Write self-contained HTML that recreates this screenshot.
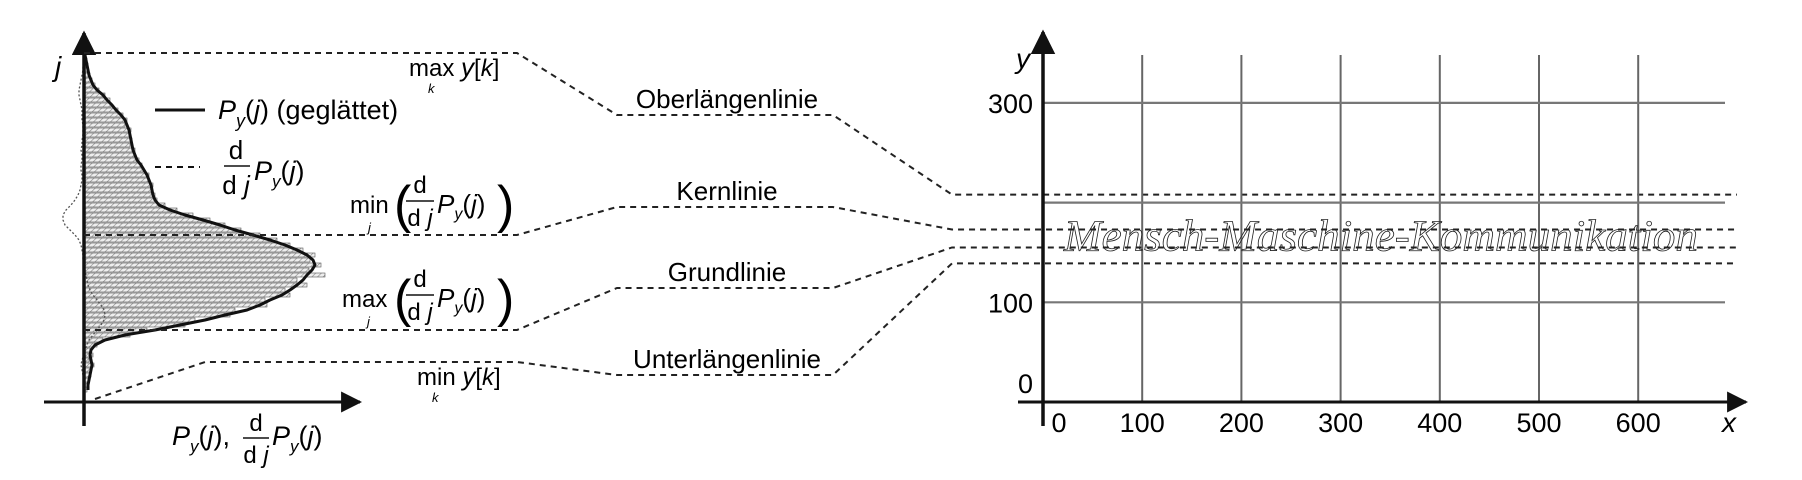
<!DOCTYPE html>
<html><head><meta charset="utf-8"><style>
html,body{margin:0;padding:0;background:#fff;}
svg{display:block;font-family:"Liberation Sans",sans-serif;}
</style></head><body>
<svg id="fig" width="1802" height="480" viewBox="0 0 1802 480" xmlns="http://www.w3.org/2000/svg">
<defs>
<marker id="arr" viewBox="0 0 10 10" refX="9" refY="5" markerWidth="7" markerHeight="7" orient="auto"><path d="M0,0 L10,5 L0,10 z" fill="#111"/></marker>
<pattern id="hatch" width="4" height="4" patternUnits="userSpaceOnUse" patternTransform="rotate(45)"><rect width="4" height="4" fill="#eee"/><line x1="0" y1="0" x2="0" y2="4" stroke="#888" stroke-width="1.3"/></pattern>
</defs>
<g id="left"></g>
<g id="mid"></g>
<g id="right"></g>

<text x="55" y="76" font-size="28" font-style="italic">j</text>
<g>
<line x1="155" y1="110" x2="205" y2="110" stroke="#111" stroke-width="3"/>
<text x="218" y="119" font-size="27"><tspan font-style="italic">P</tspan><tspan font-size="18" font-style="italic" dy="8">y</tspan><tspan dy="-8">(</tspan><tspan font-style="italic">j</tspan>) (geglättet)</text>
<line x1="155" y1="167" x2="200" y2="167" stroke="#111" stroke-width="2" stroke-dasharray="6,5"/>
<g>
<text x="236" y="159" font-size="26" text-anchor="middle">d</text>
<line x1="224" y1="166" x2="250" y2="166" stroke="#111" stroke-width="1.5"/>
<text x="236" y="194" font-size="26" text-anchor="middle">d <tspan font-style="italic">j</tspan></text>
<text x="254" y="180" font-size="27"><tspan font-style="italic">P</tspan><tspan font-size="17" font-style="italic" dy="7">y</tspan><tspan dy="-7">(</tspan><tspan font-style="italic">j</tspan>)</text>
</g>
</g>
<g>
<text x="409" y="76" font-size="24">max <tspan font-style="italic" font-size="26">y</tspan>[<tspan font-style="italic">k</tspan>]</text>
<text x="428" y="93" font-size="13" font-style="italic">k</text>
</g>
<g>
<text x="350" y="213" font-size="24">min</text>
<text x="368" y="232" font-size="13" font-style="italic">j</text>
<text x="394" y="222" font-size="52" font-weight="100">(</text>
<text x="420" y="193" font-size="24" text-anchor="middle">d</text>
<line x1="406" y1="201" x2="434" y2="201" stroke="#111" stroke-width="1.5"/>
<text x="420" y="226" font-size="24" text-anchor="middle">d <tspan font-style="italic">j</tspan></text>
<text x="437" y="213" font-size="26"><tspan font-style="italic">P</tspan><tspan font-size="16" font-style="italic" dy="6">y</tspan><tspan dy="-6">(</tspan><tspan font-style="italic">j</tspan>)</text>
<text x="497" y="222" font-size="52">)</text>
</g>
<g>
<text x="342" y="307" font-size="24">max</text>
<text x="367" y="326" font-size="13" font-style="italic">j</text>
<text x="394" y="316" font-size="52">(</text>
<text x="420" y="287" font-size="24" text-anchor="middle">d</text>
<line x1="406" y1="295" x2="434" y2="295" stroke="#111" stroke-width="1.5"/>
<text x="420" y="320" font-size="24" text-anchor="middle">d <tspan font-style="italic">j</tspan></text>
<text x="437" y="307" font-size="26"><tspan font-style="italic">P</tspan><tspan font-size="16" font-style="italic" dy="6">y</tspan><tspan dy="-6">(</tspan><tspan font-style="italic">j</tspan>)</text>
<text x="497" y="316" font-size="52">)</text>
</g>
<g>
<text x="417" y="385" font-size="24">min <tspan font-style="italic" font-size="26">y</tspan>[<tspan font-style="italic">k</tspan>]</text>
<text x="432" y="402" font-size="13" font-style="italic">k</text>
</g>
<g>
<text x="172" y="445" font-size="27"><tspan font-style="italic">P</tspan><tspan font-size="17" font-style="italic" dy="7">y</tspan><tspan dy="-7">(</tspan><tspan font-style="italic">j</tspan>),</text>
<text x="256" y="431" font-size="24" text-anchor="middle">d</text>
<line x1="243" y1="438" x2="269" y2="438" stroke="#111" stroke-width="1.5"/>
<text x="256" y="463" font-size="24" text-anchor="middle">d <tspan font-style="italic">j</tspan></text>
<text x="272" y="445" font-size="27"><tspan font-style="italic">P</tspan><tspan font-size="17" font-style="italic" dy="7">y</tspan><tspan dy="-7">(</tspan><tspan font-style="italic">j</tspan>)</text>
</g>

<text x="727" y="108" font-size="26" text-anchor="middle">Oberlängenlinie</text>
<text x="727" y="200" font-size="26" text-anchor="middle">Kernlinie</text>
<text x="727" y="281" font-size="26" text-anchor="middle">Grundlinie</text>
<text x="727" y="368" font-size="26" text-anchor="middle">Unterlängenlinie</text>
</svg>
<script>
// ---- Left plot data ----
const binJ = [340,335,330,325,320,315,310,305,300,295,290,285,280,275,270,265,260,255,250,245,240,235,230,225,220,215,210,205,200,195,190,185,180,175,170,165,160,155,150,145,140,135,130,125,120,115,110,105,100,95,90,85,80,75,70,65,60,55,50,45,40,35,30,25,20,15,10,5];
const smoothP = [0,1,2,3,4,6,8,12,18,22,27,31,36,40,42,44,45,46,47,48,50,52,56,59,62,64,66,67,68,70,74,85,100,118,135,150,168,185,200,212,222,228,230,227,222,218,212,205,197,185,175,162,140,120,95,70,40,20,10,6,5,6,7,6,5,4,3,3];
const histP = [0,2,3,2,5,7,10,14,20,25,26,33,38,42,40,46,44,47,45,50,49,54,57,58,64,63,68,66,70,72,80,92,108,125,140,156,175,192,205,218,230,225,236,224,240,212,222,200,205,180,182,150,145,110,100,62,45,18,12,5,8,4,9,5,6,3,4,2];
const derivP = [0,-1,-2,-2,-3,-4,-5,-6,-6,-5,-4,-3,-3,-3,-2,-2,-2,-3,-3,-4,-3,-3,-4,-4,-3,-3,-4,-5,-7,-10,-14,-19,-22,-22,-20,-15,-10,-6,-4,-3,-2,-2,-1,0,1,2,3,5,8,12,16,19,20,19,16,12,8,4,2,0,-1,-3,-4,-3,-2,-1,0,0];
// ---- Right plot data ----
const xTicks = [0,100,200,300,400,500,600];
const yTicks = [0,100,200,300];
const yTickLabels = ['0','100','','300'];
const guideValues = [208,173,155,139];
const guideNames = ['oberlaengen','kern','grund','unterlaengen'];

const NS='http://www.w3.org/2000/svg';
function mk(parent,tag,attrs){const e=document.createElementNS(NS,tag);for(const k in attrs)e.setAttribute(k,attrs[k]);parent.appendChild(e);return e;}

const L0 = 85, Lbase = 395;
const jy = j => Lbase - j;
const px = v => L0 + v;
const left=document.getElementById('left');
binJ.forEach((j,i)=>{
  const r=mk(left,'rect',{x:px(0),y:jy(j)-2,width:Math.max(histP[i],0.5),height:4,fill:'url(#hatch)',stroke:'#555','stroke-width':0.6});
  
  
});
const sm=mk(left,'path',{d:binJ.map((j,i)=>(i?'L':'M')+px(smoothP[i])+','+jy(j)).join(' '),fill:'none',stroke:'#111','stroke-width':3,'stroke-linejoin':'round'});


const dv=mk(left,'path',{d:binJ.map((j,i)=>(i?'L':'M')+px(derivP[i])+','+jy(j)).join(' '),fill:'none',stroke:'#555','stroke-width':1.3,'stroke-dasharray':'2,2'});


const ya=mk(left,'line',{x1:84,y1:426,x2:84,y2:33,stroke:'#111','stroke-width':3.5,'marker-end':'url(#arr)'});


const xa=mk(left,'line',{x1:44,y1:402,x2:360,y2:402,stroke:'#111','stroke-width':3,'marker-end':'url(#arr)'});



const X0=1043, Y0=402;
const sx = v => X0 + v*0.992;
const sy = v => Y0 - v*0.997;

const mid=document.getElementById('mid');
const conn=[
 [[84,53],[517,53],[617,115],[833,115]],
 [[84,235],[517,235],[617,207],[833,207]],
 [[84,330],[517,330],[617,288],[833,288]],
 [[95,399],[205,362],[517,362],[617,375],[833,375]]
];
conn.forEach((pts,i)=>{
  const yv=sy(guideValues[i]);
  const all=pts.concat([[952,yv],[1737,yv]]);
  const p=mk(mid,'path',{d:all.map((q,k)=>(k?'L':'M')+q[0]+','+q[1]).join(' '),fill:'none',stroke:'#222','stroke-width':2,'stroke-dasharray':'6,5'});
  
  
});

const right=document.getElementById('right');
xTicks.slice(1).forEach(t=>{
  const g=mk(right,'line',{x1:sx(t),x2:sx(t),y1:55,y2:Y0,stroke:'#666','stroke-width':2});
  
  
});
yTicks.slice(1).forEach(t=>{
  const g=mk(right,'line',{x1:X0,x2:1725,y1:sy(t),y2:sy(t),stroke:'#777','stroke-width':2.2});
  
  
});
xTicks.forEach(t=>{
  const tx=mk(right,'text',{x:t===0?sx(t)+16:sx(t),y:432,'font-size':27,'text-anchor':'middle'});
  tx.textContent=t;
  
  
});
yTicks.forEach((t,i)=>{
  if(!yTickLabels[i]) return;
  const tx=mk(right,'text',{x:1033,y:t===0?393:sy(t)+10,'font-size':27,'text-anchor':'end'});
  tx.textContent=yTickLabels[i];
  
  
});
const hw=mk(right,'text',{x:1064,y:sy(152),'font-size':44,'font-family':'"Liberation Serif",serif','font-style':'italic',textLength:634,lengthAdjust:'spacingAndGlyphs',fill:'none',stroke:'#222','stroke-width':0.8});
hw.textContent='Mensch-Maschine-Kommunikation';


const ax=mk(right,'line',{x1:1018,y1:Y0,x2:1746,y2:Y0,stroke:'#111','stroke-width':3,'marker-end':'url(#arr)'});


const ay=mk(right,'line',{x1:X0,y1:426,x2:X0,y2:32,stroke:'#111','stroke-width':3.5,'marker-end':'url(#arr)'});


const xl=mk(right,'text',{x:1722,y:432,'font-size':28,'font-style':'italic'});
xl.textContent='x';


const yl=mk(right,'text',{x:1016,y:68,'font-size':28,'font-style':'italic'});
yl.textContent='y';


</script>
</body></html>
